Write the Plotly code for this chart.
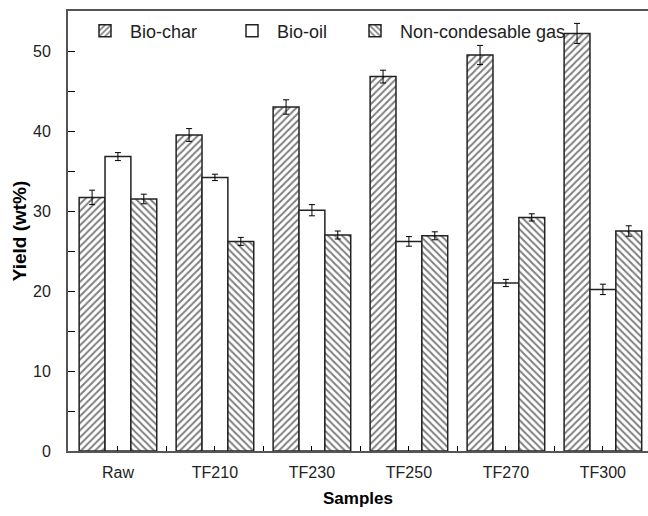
import plotly.graph_objects as go

# Product yields of raw and torrefied samples
samples = ["Raw", "TF210", "TF230", "TF250", "TF270", "TF300"]
bio_char = [31.7, 39.5, 43.0, 46.8, 49.5, 52.2]
bio_char_err = [0.9, 0.8, 0.9, 0.8, 1.2, 1.25]
bio_oil = [36.8, 34.2, 30.1, 26.2, 21.0, 20.2]
bio_oil_err = [0.5, 0.4, 0.7, 0.6, 0.45, 0.65]
gas = [31.5, 26.2, 27.0, 26.9, 29.2, 27.5]
gas_err = [0.6, 0.5, 0.5, 0.5, 0.45, 0.65]

pos = list(range(len(samples)))
font = "Liberation Sans, Arial, sans-serif"
ink = "#222"

# plot area in pixels (used to place the legends)
W, H = 648, 516
L, R, T, B = 68, 0, 11, 65
pw, ph = W - L - R, H - T - B


def err(vals):
    return dict(type="data", array=vals, visible=True, color="black",
                thickness=1, width=3)


def hatch(shape):
    return dict(shape=shape, size=5, solidity=0.4,
                fgcolor="black", bgcolor="white")


fig = go.Figure()
fig.add_trace(go.Bar(
    x=pos, y=bio_char, name="Bio-char", error_y=err(bio_char_err),
    legend="legend",
    marker=dict(color="white", line=dict(color="#222", width=1.5),
                pattern=hatch("/")),
))
fig.add_trace(go.Bar(
    x=pos, y=bio_oil, name="Bio-oil", error_y=err(bio_oil_err),
    legend="legend2",
    marker=dict(color="white", line=dict(color="#222", width=1.5)),
))
fig.add_trace(go.Bar(
    x=pos, y=gas, name="Non-condesable gas", error_y=err(gas_err),
    legend="legend3",
    marker=dict(color="white", line=dict(color="#222", width=1.5),
                pattern=hatch("\\")),
))


def leg(xpix):
    return dict(x=(xpix - L) / pw, y=(H - B - 31) / ph, xanchor="left",
                yanchor="middle", bgcolor="rgba(0,0,0,0)",
                font=dict(size=18, family=font, color=ink), itemwidth=40)


fig.update_layout(
    width=W, height=H,
    margin=dict(l=L, r=R, t=T, b=B, autoexpand=False),
    paper_bgcolor="white", plot_bgcolor="white",
    barmode="group", bargap=0.2, bargroupgap=0,
    font=dict(family=font, color=ink, size=16),
    showlegend=True,
    legend=leg(80), legend2=leg(227), legend3=leg(350),
    xaxis=dict(
        range=[-0.515, 5.465], tickmode="array", tickvals=pos,
        ticktext=samples, ticks="inside", ticklen=5, tickcolor="black",
        showline=True, linecolor="#555", linewidth=2, mirror=True,
        showgrid=False, zeroline=False, ticklabelstandoff=6,
        tickfont=dict(size=16),
        minor=dict(tickvals=[p + 0.5 for p in pos[:-1]], ticks="inside",
                   ticklen=5, tickcolor="black"),
        title=dict(text="<b>Samples</b>",
                   font=dict(size=17, family=font, color="black"),
                   standoff=12),
    ),
    yaxis=dict(
        range=[0, 55], tickmode="array", tickvals=[0, 10, 20, 30, 40, 50],
        ticks="inside", ticklen=7, tickcolor="black",
        showline=True, linecolor="#555", linewidth=2,
        showgrid=False, zeroline=False, ticklabelstandoff=12,
        tickfont=dict(size=16),
        minor=dict(tickvals=[5, 15, 25, 35, 45], ticks="inside",
                   ticklen=7, tickcolor="black"),
        title=dict(text="<b>Yield (wt%)</b>",
                   font=dict(size=19, family=font, color="black"),
                   standoff=1),
    ),
)

fig.write_html("out.html")
